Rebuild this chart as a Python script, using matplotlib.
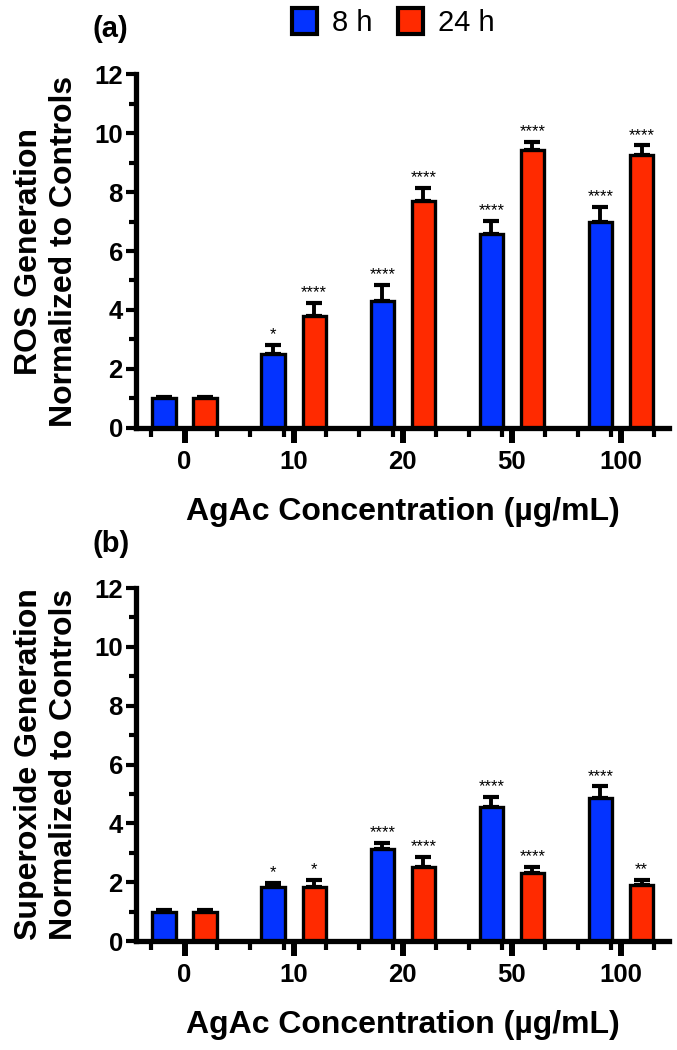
import numpy as np
import matplotlib
matplotlib.use('Agg')
import matplotlib.pyplot as plt
from matplotlib.patches import Patch
from matplotlib import font_manager

# ---------------- data ----------------
groups = ['0', '10', '20', '50', '100']
series = ['8 h', '24 h']

ros_8h = [1.0, 2.52, 4.29, 6.58, 7.00]
ros_8h_err = [0.05, 0.30, 0.57, 0.45, 0.49]
ros_24h = [1.0, 3.81, 7.71, 9.43, 9.26]
ros_24h_err = [0.05, 0.44, 0.44, 0.27, 0.32]
ros_8h_sig = ['', '*', '****', '****', '****']
ros_24h_sig = ['', '****', '****', '****', '****']

sup_8h = [1.0, 1.82, 3.13, 4.57, 4.86]
sup_8h_err = [0.06, 0.15, 0.20, 0.33, 0.40]
sup_24h = [1.0, 1.82, 2.53, 2.31, 1.89]
sup_24h_err = [0.06, 0.27, 0.33, 0.22, 0.19]
sup_8h_sig = ['', '*', '****', '****', '****']
sup_24h_sig = ['', '*', '****', '****', '**']

yticks = [0, 2, 4, 6, 8, 10, 12]
xlabel = 'AgAc Concentration (\u00b5g/mL)'
ylabels = ['ROS Generation\nNormalized to Controls',
           'Superoxide Generation\nNormalized to Controls']
panel_tags = ['(a)', '(b)']

# ---------------- style ----------------
BLUE = '#0433ff'
RED = '#ff2a00'
names = {f.name for f in font_manager.fontManager.ttflist}
MAIN = 'Liberation Sans' if 'Liberation Sans' in names else 'DejaVu Sans'
NARROW = 'Liberation Sans Narrow' if 'Liberation Sans Narrow' in names else MAIN
plt.rcParams['font.family'] = [MAIN, 'DejaVu Sans']

fig = plt.figure(figsize=(6.77, 10.5), dpi=100)
ax_a = fig.add_axes([0.2009, 0.5924, 0.7873, 0.3371])
ax_b = fig.add_axes([0.2009, 0.1038, 0.7873, 0.3362])

off = 0.188
bw = 0.214
x = np.arange(len(groups))


def draw_panel(ax, v8, e8, v24, e24, s8, s24, ylab):
    for vals, errs, sig, col, dx in [(v8, e8, s8, BLUE, -off), (v24, e24, s24, RED, off)]:
        xs = x + dx
        ax.bar(xs, vals, bw, color=col, edgecolor='black', linewidth=2.4, zorder=3)
        ax.errorbar(xs, vals, yerr=[np.zeros(len(vals)), errs], fmt='none',
                    ecolor='black', elinewidth=2.8, capsize=6, capthick=3, zorder=2)
        for xi, v, e, s in zip(xs, vals, errs, sig):
            if s:
                ax.annotate(s, (xi, v + e), xytext=(0, 4), textcoords='offset points',
                            ha='center', va='baseline', fontsize=12, zorder=5)
    ax.set_xlim(-0.445, 4.44)
    ax.set_ylim(0, 12)
    ax.set_yticks(yticks)
    ax.set_yticks(np.arange(1, 12, 2), minor=True)
    ax.set_xticks(x)
    ax.set_xticklabels(groups)
    # small ticks under the bars, as in the original
    minor = [-0.31, 0.30]
    for g in range(1, len(groups)):
        minor += [g - 0.397, g - 0.09, g + 0.30]
    ax.set_xticks(minor, minor=True)
    for sp in ['top', 'right']:
        ax.spines[sp].set_visible(False)
    for sp in ['left', 'bottom']:
        ax.spines[sp].set_linewidth(3.8)
        ax.spines[sp].set_zorder(4)
    ax.tick_params(axis='y', which='major', length=7, width=3, pad=2.5, labelsize=18.5)
    ax.tick_params(axis='y', which='minor', length=4.7, width=3)
    ax.tick_params(axis='x', which='major', length=10.5, width=4.3, pad=5, labelsize=18.5)
    ax.tick_params(axis='x', which='minor', length=6.8, width=3)
    for lab in ax.get_xticklabels() + ax.get_yticklabels():
        lab.set_fontweight('bold')
    ax.set_xlabel(xlabel, fontsize=23, fontweight='bold', labelpad=17)
    ax.set_ylabel(ylab, fontsize=23, fontweight='bold', labelpad=11, linespacing=1.2)


draw_panel(ax_a, ros_8h, ros_8h_err, ros_24h, ros_24h_err, ros_8h_sig, ros_24h_sig, ylabels[0])
draw_panel(ax_b, sup_8h, sup_8h_err, sup_24h, sup_24h_err, sup_8h_sig, sup_24h_sig, ylabels[1])

fig.text(0.137, 0.9725, panel_tags[0], fontsize=21, fontweight='bold', family=[NARROW, 'DejaVu Sans'],
         va='center', ha='left')
fig.text(0.137, 0.4815, panel_tags[1], fontsize=21, fontweight='bold', family=[NARROW, 'DejaVu Sans'],
         va='center', ha='left')

handles = [Patch(facecolor=BLUE, edgecolor='black', linewidth=3, label=series[0]),
           Patch(facecolor=RED, edgecolor='black', linewidth=3, label=series[1])]
fig.legend(handles=handles, loc='center', bbox_to_anchor=(0.581, 0.979), ncol=2, frameon=False,
           handlelength=0.85, handleheight=1.0, handletextpad=0.5, columnspacing=0.9,
           prop={'family': [NARROW, 'DejaVu Sans'], 'size': 21})

fig.savefig('out.png', dpi=100)
